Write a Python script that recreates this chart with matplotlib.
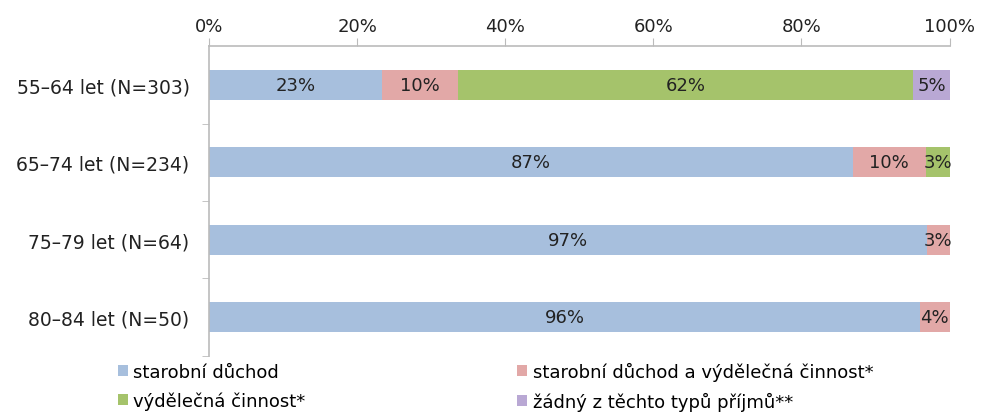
import numpy as np
import matplotlib
matplotlib.use('Agg')
import matplotlib.pyplot as plt
from matplotlib.patches import Patch

plt.rcParams['font.family'] = ['DejaVu Sans']

# data
skupiny = ['55–64 let (N=303)', '65–74 let (N=234)', '75–79 let (N=64)', '80–84 let (N=50)']
duchod = [23.4, 86.9, 96.9, 96.0]
duchod_prace = [10.2, 9.9, 3.1, 4.0]
prace = [61.5, 3.2, 0, 0]
zadny = [4.9, 0, 0, 0]
serie = ['starobní důchod', 'starobní důchod a výdělečná činnost*',
         'výdělečná činnost*', 'žádný z těchto typů příjmů**']
barvy = ['#A7BFDD', '#E2A8A7', '#A5C36B', '#B9A8D4']
xticks = [0, 20, 40, 60, 80, 100]

fig = plt.figure(figsize=(9.81, 4.14), dpi=100)
ax = fig.add_axes([0.213, 0.138, 0.755, 0.748])

y = np.arange(len(skupiny))
vlevo = np.zeros(len(skupiny))
for hodnoty, nazev, barva in zip([duchod, duchod_prace, prace, zadny], serie, barvy):
    hodnoty = np.array(hodnoty, dtype=float)
    bars = ax.barh(y, hodnoty, left=vlevo, height=0.39, color=barva, label=nazev)
    for b, v in zip(bars, hodnoty):
        if v > 0:
            ax.text(b.get_x() + b.get_width() / 2, b.get_y() + b.get_height() / 2,
                    f'{v:.0f}%', ha='center', va='center', fontsize=13, color='#222222')
    vlevo += hodnoty

ax.set_xlim(0, 100)
ax.set_ylim(len(skupiny) - 0.5, -0.5)
ax.xaxis.tick_top()
ax.set_xticks(xticks)
ax.set_xticklabels([f'{t}%' for t in xticks], fontsize=13, color='#222222')
ax.tick_params(axis='x', direction='out', length=6, color='#BBBBBB', pad=2)
ax.set_yticks(y)
ax.set_yticklabels(skupiny, fontsize=13.5, color='#222222')
ax.tick_params(axis='y', which='major', length=0, pad=14)
ax.set_yticks(np.arange(0.5, len(skupiny), 1), minor=True)
ax.tick_params(axis='y', which='minor', direction='out', length=5, color='#BBBBBB')
for s in ['right', 'bottom']:
    ax.spines[s].set_visible(False)
for s in ['top', 'left']:
    ax.spines[s].set_color('#BBBBBB')
    ax.spines[s].set_linewidth(1.2)

handles = [Patch(facecolor=c, label=n) for c, n in zip(barvy, serie)]
# poradi po radcich: 1,2 / 3,4
poradi = [handles[0], handles[2], handles[1], handles[3]]
fig.legend(handles=poradi, loc='lower left', bbox_to_anchor=(0.107, -0.025), ncol=2,
           frameon=False, fontsize=13, handlelength=0.55, handleheight=0.55,
           handletextpad=0.3, columnspacing=11.75, labelspacing=0.6, borderpad=0.2)

plt.savefig('out.png', dpi=100)
